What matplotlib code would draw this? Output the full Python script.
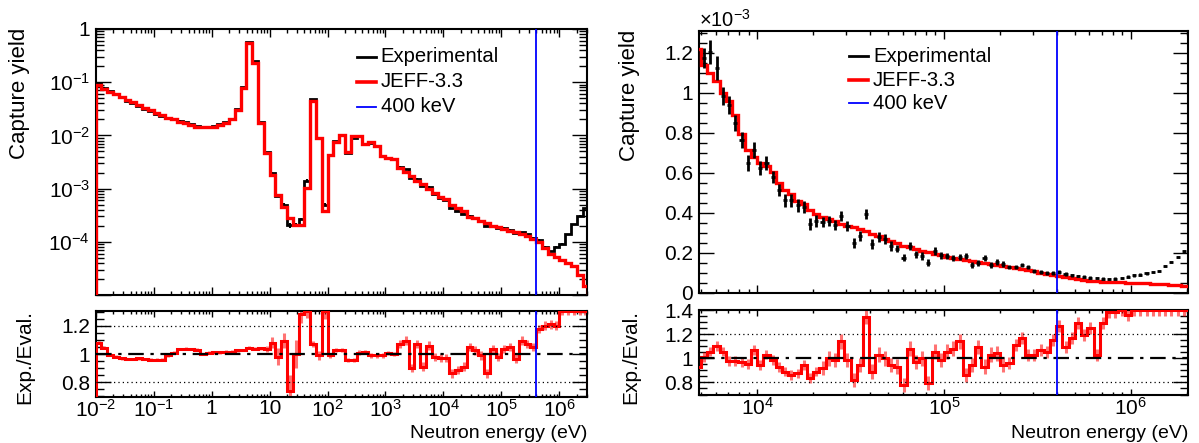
import numpy as np
import matplotlib
matplotlib.use("Agg")
import matplotlib.pyplot as plt
from matplotlib.ticker import FixedLocator, FixedFormatter, LogLocator, NullFormatter, MultipleLocator

plt.rcParams['font.family'] = ['Liberation Sans', 'DejaVu Sans']
plt.rcParams['mathtext.fontset'] = 'custom'
plt.rcParams['mathtext.rm'] = 'Liberation Sans'
plt.rcParams['mathtext.it'] = 'Liberation Sans:italic'
plt.rcParams['mathtext.bf'] = 'Liberation Sans:bold'

W, H = 1199, 443

# ==============================================================================
# DATA - left panel, full range, 10 bins per decade starting at 1e-2 eV
# ==============================================================================
left_log_edges = np.arange(-20, 66) / 10.0

jeff_left_log = [
    -1.05, -1.12, -1.18, -1.22, -1.27, -1.33, -1.38, -1.43, -1.49, -1.53,
    -1.58, -1.62, -1.67, -1.69, -1.74, -1.77, -1.80, -1.84, -1.85, -1.85,
    -1.84, -1.80, -1.76, -1.70, -1.52, -1.11, -0.27, -0.63, -1.77, -2.34,
    -2.74, -3.12, -3.34, -3.56, -3.68, -3.68, -2.98, -1.35, -2.05, -3.43,
    -2.37, -2.12, -2.00, -2.32, -2.02, -2.02, -2.17, -2.13, -2.20, -2.38,
    -2.43, -2.45, -2.62, -2.68, -2.76, -2.85, -2.91, -3.00, -3.09, -3.16,
    -3.20, -3.31, -3.37, -3.43, -3.53, -3.56, -3.61, -3.64, -3.71, -3.73,
    -3.76, -3.79, -3.82, -3.86, -3.89, -3.94, -4.01, -4.11, -4.23, -4.29,
    -4.34, -4.39, -4.45, -4.63, -4.83]

exp_left_log = [
    -1.02, -1.10, -1.17, -1.22, -1.28, -1.35, -1.40, -1.44, -1.51, -1.55,
    -1.60, -1.64, -1.68, -1.69, -1.72, -1.75, -1.79, -1.83, -1.85, -1.85,
    -1.83, -1.79, -1.75, -1.69, -1.51, -1.09, -0.25, -0.61, -1.75, -2.32,
    -2.70, -3.13, -3.30, -3.69, -3.68, -3.57, -2.85, -1.32, -2.05, -3.30,
    -2.37, -2.11, -1.99, -2.34, -2.04, -2.02, -2.16, -2.14, -2.20, -2.38,
    -2.43, -2.45, -2.59, -2.64, -2.81, -2.82, -2.95, -2.97, -3.10, -3.17,
    -3.21, -3.37, -3.42, -3.47, -3.51, -3.55, -3.61, -3.70, -3.70, -3.74,
    -3.74, -3.77, -3.83, -3.82, -3.86, -3.92, -3.96, -4.10, -4.18, -4.10,
    -4.04, -3.86, -3.67, -3.51, -3.37]

exp_left_relerr = [
    0.01, 0.01, 0.01, 0.01, 0.01, 0.01, 0.01, 0.01, 0.01, 0.01,
    0.01, 0.01, 0.01, 0.01, 0.01, 0.01, 0.01, 0.01, 0.01, 0.01,
    0.01, 0.01, 0.01, 0.01, 0.01, 0.01, 0.01, 0.01, 0.01, 0.02,
    0.04, 0.06, 0.05, 0.12, 0.10, 0.06, 0.05, 0.02, 0.03, 0.06,
    0.015, 0.015, 0.015, 0.015, 0.015, 0.015, 0.015, 0.015, 0.015, 0.015,
    0.015, 0.015, 0.03, 0.03, 0.03, 0.03, 0.03, 0.03, 0.03, 0.03,
    0.03, 0.03, 0.03, 0.03, 0.03, 0.03, 0.03, 0.03, 0.03, 0.03,
    0.03, 0.03, 0.03, 0.03, 0.03, 0.03, 0.03, 0.03, 0.03, 0.03,
    0.03, 0.03, 0.03, 0.03, 0.03]

ratio_left = [
    1.08, 1.045, 0.995, 0.98, 0.97, 0.965, 0.965, 0.97, 0.965, 0.96,
    0.96, 0.96, 0.99, 1.01, 1.035, 1.037, 1.035, 1.03, 1.0, 1.01,
    1.012, 1.012, 1.015, 1.015, 1.025, 1.028, 1.044, 1.037, 1.04, 1.037,
    1.08, 0.98, 1.095, 0.735, 1.0, 1.28, 1.35, 1.07, 0.99, 1.35,
    0.99, 1.026, 1.026, 0.956, 0.956, 1.01, 1.015, 0.99, 0.99, 0.99,
    1.007, 1.0, 1.07, 1.095, 0.9, 1.07, 0.91, 1.06, 0.98, 0.97,
    0.97, 0.863, 0.886, 0.91, 1.05, 1.026, 0.99, 0.863, 1.037, 0.98,
    1.037, 1.05, 0.967, 1.095, 1.07, 1.05, 1.177, 1.2, 1.21, 1.2,
    1.4, 1.4, 1.4, 1.4, 1.4]

# ==============================================================================
# DATA - right panel, zoom above 5 keV, 30 bins per decade (yield in 1e-3)
# ==============================================================================
right_log_edges = np.arange(110, 191) / 30.0

jeff_right = [
    1.22, 1.14, 1.10, 1.06, 1.00, 0.96, 0.89, 0.795, 0.715, 0.68,
    0.65, 0.635, 0.605, 0.55, 0.515, 0.495, 0.46, 0.445, 0.415, 0.395,
    0.38, 0.37, 0.36, 0.345, 0.336, 0.328, 0.32, 0.31, 0.295, 0.285,
    0.27, 0.26, 0.252, 0.235, 0.228, 0.218, 0.212, 0.203, 0.196, 0.19,
    0.182, 0.176, 0.17, 0.164, 0.16, 0.155, 0.15, 0.146, 0.142, 0.137,
    0.132, 0.127, 0.121, 0.114, 0.108, 0.102, 0.096, 0.09, 0.085, 0.08,
    0.075, 0.07, 0.066, 0.062, 0.059, 0.057, 0.055, 0.054, 0.053, 0.052,
    0.051, 0.05, 0.048, 0.046, 0.045, 0.043, 0.041, 0.039, 0.036, 0.033]

# experimental points start one bin later (first bin centre is off-axis)
exp_right = [
    1.176, 1.205, 1.126, 0.983, 0.938, 0.849, 0.765, 0.647, 0.714,
    0.622, 0.65, 0.58, 0.513, 0.462, 0.462, 0.437, 0.429, 0.345, 0.361,
    0.356, 0.361, 0.341, 0.387, 0.336, 0.252, 0.286, 0.395, 0.244, 0.281,
    0.272, 0.235, 0.222, 0.176, 0.235, 0.193, 0.185, 0.151, 0.21, 0.188,
    0.185, 0.176, 0.18, 0.185, 0.14, 0.151, 0.176, 0.14, 0.155, 0.146,
    0.13, 0.13, 0.138, 0.131, 0.11, 0.106, 0.098, 0.1, 0.103, 0.097,
    0.088, 0.085, 0.082, 0.077, 0.075, 0.072, 0.07, 0.072, 0.076, 0.082,
    0.088, 0.092, 0.098, 0.104, 0.11, 0.135, 0.155, 0.18, 0.208, 0.245]

exp_right_err = [
    0.05, 0.06, 0.06, 0.045, 0.045, 0.04, 0.04, 0.04, 0.04,
    0.035, 0.035, 0.03, 0.03, 0.03, 0.03, 0.03, 0.03, 0.03, 0.03,
    0.025, 0.025, 0.025, 0.025, 0.025, 0.025, 0.025, 0.025, 0.025, 0.025,
    0.025, 0.025, 0.018, 0.018, 0.018, 0.018, 0.018, 0.018, 0.018, 0.018,
    0.015, 0.015, 0.015, 0.015, 0.015, 0.015, 0.015, 0.015, 0.015, 0.015,
    0.01, 0.01, 0.01, 0.01, 0.01, 0.01, 0.01, 0.01, 0.01, 0.01,
    0.006, 0.006, 0.006, 0.006, 0.006, 0.006, 0.006, 0.006, 0.006, 0.006,
    0.006, 0.006, 0.006, 0.006, 0.006, 0.006, 0.006, 0.006, 0.006, 0.006]

ratio_right = [
    0.93, 1.01, 1.055, 1.1, 1.055, 0.98, 0.98, 0.97, 0.95, 1.07,
    0.945, 1.03, 0.985, 0.93, 0.89, 0.86, 0.875, 0.945, 0.835, 0.89,
    0.92, 1.0, 0.985, 1.14, 0.985, 0.82, 0.945, 1.34, 0.89, 1.03,
    1.0, 0.945, 0.93, 0.78, 1.08, 0.97, 1.0, 0.795, 1.055, 0.985,
    1.055, 1.08, 1.14, 0.86, 0.945, 1.095, 0.93, 1.03, 1.04, 0.945,
    0.96, 1.11, 1.165, 1.03, 1.03, 1.07, 1.055, 1.15, 1.27, 1.095,
    1.165, 1.29, 1.19, 1.25, 1.03, 1.29, 1.38, 1.38, 1.45, 1.36,
    1.5, 1.5, 1.5, 1.5, 1.5, 1.5, 1.5, 1.5, 1.5, 1.5]

ratio_right_err = [
    0.04, 0.04, 0.04, 0.04, 0.04, 0.04, 0.04, 0.04, 0.04, 0.04,
    0.04, 0.04, 0.04, 0.04, 0.04, 0.04, 0.04, 0.04, 0.04, 0.04,
    0.06, 0.06, 0.06, 0.06, 0.06, 0.06, 0.06, 0.06, 0.06, 0.06,
    0.06, 0.06, 0.06, 0.06, 0.06, 0.06, 0.06, 0.06, 0.06, 0.06,
    0.06, 0.06, 0.06, 0.06, 0.06, 0.06, 0.06, 0.06, 0.06, 0.06,
    0.05, 0.05, 0.05, 0.05, 0.05, 0.05, 0.05, 0.05, 0.05, 0.05,
    0.05, 0.05, 0.05, 0.05, 0.05, 0.05, 0.05, 0.05, 0.05, 0.05,
    0.05, 0.05, 0.05, 0.05, 0.05, 0.05, 0.05, 0.05, 0.05, 0.05]

E_CUT = 4e5
legend_labels = ["Experimental", "JEFF-3.3", "400 keV"]

# ==============================================================================
# HELPERS
# ==============================================================================
def rect(x0, y0, x1, y1):
    return [x0 / W, 1 - y1 / H, (x1 - x0) / W, (y1 - y0) / H]

def frame(ax, xmaj, ymaj):
    for s in ax.spines.values():
        s.set_linewidth(1.5)
    ax.tick_params(which='both', direction='in', top=True, right=True,
                   width=1.0, labelsize=15, pad=4)
    ax.tick_params(axis='x', which='major', length=xmaj, pad=1.5)
    ax.tick_params(axis='x', which='minor', length=xmaj / 2)
    ax.tick_params(axis='y', which='major', length=ymaj)
    ax.tick_params(axis='y', which='minor', length=ymaj / 2)

def log_minor(axis):
    axis.set_minor_locator(LogLocator(base=10, subs=np.arange(2, 10) * 1.0, numticks=200))
    axis.set_minor_formatter(NullFormatter())

def legend(ax, x0, x1, xt, ys):
    styles = [('black', 2.0), ('red', 2.6), ('blue', 1.3)]
    for (c, lw), lab, y in zip(styles, legend_labels, ys):
        ax.plot([x0, x1], [y, y], transform=ax.transAxes, color=c, lw=lw, clip_on=False)
        ax.text(xt, y, lab, transform=ax.transAxes, ha='left', va='center', fontsize=14.6)

def ratio_lines(ax):
    ax.axhline(1.0, color='black', lw=1.6, ls=(0, (7, 3, 1.5, 3)), zorder=4)
    for v in (0.8, 1.2):
        ax.axhline(v, color='black', lw=0.9, ls=(0, (1, 2.5)), zorder=4)

fig = plt.figure(figsize=(W / 100, H / 100), dpi=100)

# ==============================================================================
# LEFT - TOP
# ==============================================================================
le = 10 ** left_log_edges
lc = 10 ** (0.5 * (left_log_edges[1:] + left_log_edges[:-1]))
ax = fig.add_axes(rect(95.7, 29, 587, 295))
ye = 10 ** np.array(exp_left_log)
yj = 10 ** np.array(jeff_left_log)
ax.stairs(ye, le, color='black', lw=2.0, zorder=2)
ax.errorbar(lc, ye, yerr=ye * np.array(exp_left_relerr), fmt='none', ecolor='black', elinewidth=1.5, zorder=2)
ax.stairs(yj, le, color='red', lw=2.4, zorder=3)
ax.axvline(E_CUT, color='blue', lw=1.3, zorder=5)
ax.set_xscale('log')
ax.set_yscale('log')
ax.set_xlim(1e-2, 3e6)
ax.set_ylim(1e-5, 1)
ax.xaxis.set_major_locator(FixedLocator(10.0 ** np.arange(-2, 7)))
log_minor(ax.xaxis)
ax.yaxis.set_major_locator(FixedLocator(10.0 ** np.arange(-5, 1)))
ax.yaxis.set_major_formatter(FixedFormatter(['', r'$10^{-4}$', r'$10^{-3}$', r'$10^{-2}$', r'$10^{-1}$', '1']))
log_minor(ax.yaxis)
frame(ax, 6, 11)
ax.tick_params(labelbottom=False)
legend(ax, 0.532, 0.5705, 0.580, [0.895, 0.801, 0.707])

# ==============================================================================
# LEFT - RATIO
# ==============================================================================
ax = fig.add_axes(rect(95.7, 310.7, 587, 397.3))
rl = np.clip(np.array(ratio_left), 0.694, 1.306)
ax.errorbar(lc, rl, yerr=np.array(exp_left_relerr), fmt='none', ecolor='red', elinewidth=2.2, alpha=0.55, zorder=2)
ax.stairs(rl, le, color='red', lw=2.2, zorder=3)
ratio_lines(ax)
ax.axvline(E_CUT, color='blue', lw=1.3, zorder=5)
ax.set_xscale('log')
ax.set_xlim(1e-2, 3e6)
ax.set_ylim(0.694, 1.306)
ax.xaxis.set_major_locator(FixedLocator(10.0 ** np.arange(-2, 7)))
ax.xaxis.set_major_formatter(FixedFormatter([r'$10^{-2}$', r'$10^{-1}$', '1', '10', r'$10^{2}$',
                                             r'$10^{3}$', r'$10^{4}$', r'$10^{5}$', r'$10^{6}$']))
log_minor(ax.xaxis)
ax.yaxis.set_major_locator(FixedLocator([0.8, 1.0, 1.2]))
ax.yaxis.set_major_formatter(FixedFormatter(['0.8', '1', '1.2']))
ax.yaxis.set_minor_locator(MultipleLocator(0.05))
frame(ax, 4, 11)

# ==============================================================================
# RIGHT - TOP
# ==============================================================================
re_ = 10 ** right_log_edges
step = 1.0 / 30
rc_log = 0.5 * (right_log_edges[1:] + right_log_edges[:-1])
xc = 10 ** rc_log[1:]
xlo = xc - 10 ** (rc_log[1:] - 0.33 * step)
xhi = 10 ** (rc_log[1:] + 0.33 * step) - xc
ax = fig.add_axes(rect(698.7, 30.7, 1188, 293))
ax.stairs(jeff_right, re_, baseline=0, color='red', lw=2.4, zorder=3)
ax.errorbar(xc, exp_right, yerr=exp_right_err, xerr=[xlo, xhi], fmt='none',
            ecolor='black', elinewidth=2.0, zorder=4)
ax.axvline(E_CUT, color='blue', lw=1.3, zorder=5)
ax.set_xscale('log')
ax.set_xlim(4.87e3, 2.02e6)
ax.set_ylim(0, 1.31)
ax.xaxis.set_major_locator(FixedLocator([1e4, 1e5, 1e6]))
log_minor(ax.xaxis)
ax.yaxis.set_major_locator(FixedLocator([0, 0.2, 0.4, 0.6, 0.8, 1.0, 1.2]))
ax.yaxis.set_major_formatter(FixedFormatter(['0', '0.2', '0.4', '0.6', '0.8', '1', '1.2']))
ax.yaxis.set_minor_locator(MultipleLocator(0.05))
frame(ax, 6, 11)
ax.tick_params(labelbottom=False)
legend(ax, 0.3066, 0.346, 0.356, [0.9035, 0.812, 0.724])

# ==============================================================================
# RIGHT - RATIO
# ==============================================================================
rcen = 10 ** rc_log
ax = fig.add_axes(rect(698.7, 310, 1188, 394.5))
rr = np.clip(np.array(ratio_right), 0.7, 1.4)
ax.errorbar(rcen, rr, yerr=ratio_right_err, fmt='none', ecolor='red', elinewidth=2.2, alpha=0.55, zorder=2)
ax.stairs(rr, re_, color='red', lw=2.2, zorder=3)
ratio_lines(ax)
ax.axvline(E_CUT, color='blue', lw=1.3, zorder=5)
ax.set_xscale('log')
ax.set_xlim(4.87e3, 2.02e6)
ax.set_ylim(0.7, 1.4)
ax.xaxis.set_major_locator(FixedLocator([1e4, 1e5, 1e6]))
ax.xaxis.set_major_formatter(FixedFormatter([r'$10^{4}$', r'$10^{5}$', r'$10^{6}$']))
log_minor(ax.xaxis)
ax.yaxis.set_major_locator(FixedLocator([0.8, 1.0, 1.2, 1.4]))
ax.yaxis.set_major_formatter(FixedFormatter(['0.8', '1', '1.2', '1.4']))
ax.yaxis.set_minor_locator(MultipleLocator(0.05))
frame(ax, 4, 11)

# ==============================================================================
# TITLES
# ==============================================================================
fig.text(20 / W, 1 - 28 / H, 'Capture yield', rotation=90, ha='center', va='top', fontsize=16)
fig.text(630 / W, 1 - 30 / H, 'Capture yield', rotation=90, ha='center', va='top', fontsize=16)
fig.text(25 / W, 1 - 310 / H, 'Exp./Eval.', rotation=90, ha='center', va='top', fontsize=15)
fig.text(631 / W, 1 - 310 / H, 'Exp./Eval.', rotation=90, ha='center', va='top', fontsize=15)
fig.text(587 / W, 1 - 438 / H, 'Neutron energy (eV)', ha='right', va='baseline', fontsize=14)
fig.text(1188 / W, 1 - 438 / H, 'Neutron energy (eV)', ha='right', va='baseline', fontsize=14)
fig.text(699 / W, 1 - 27 / H, r'$\times10^{-3}$', ha='left', va='baseline', fontsize=14.5)

fig.savefig('out.png', dpi=100)
